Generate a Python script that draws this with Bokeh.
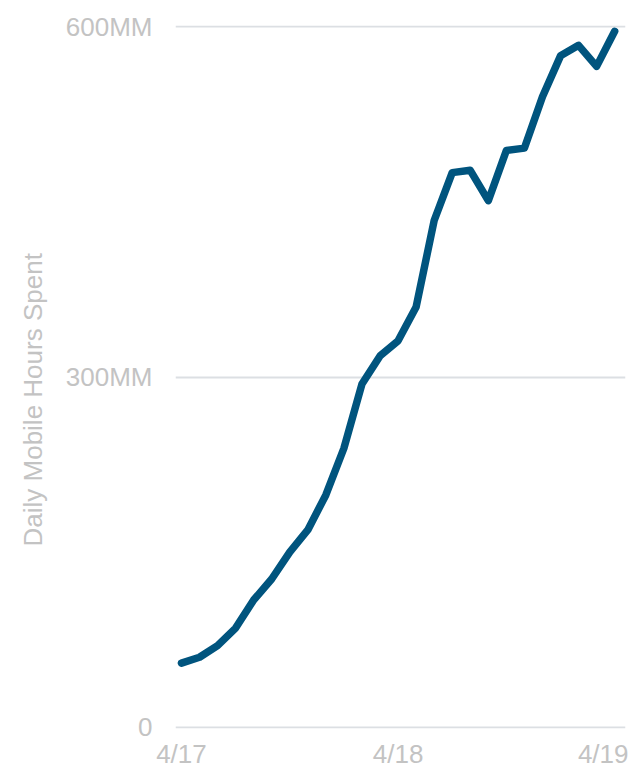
from bokeh.plotting import figure
from bokeh.models import FixedTicker, Range1d, Title
from bokeh.embed import file_html
from bokeh.resources import INLINE

# Monthly data, April 2017 .. April 2019 (month index 0..24)
months = list(range(25))
hours_mm = [55, 60, 70, 85, 109, 127, 150, 169, 199, 239, 294, 318, 331,
            360, 434, 475, 477, 451, 494, 496, 540, 575, 584, 566, 596]
x_tick_pos = [0, 12, 24]
x_tick_labels = ["4/17", "4/18", "4/19"]
y_tick_pos = [0, 300, 600]
y_tick_labels = ["0", "300MM", "600MM"]
y_title = "Daily Mobile Hours Spent"

FONT = "Liberation Sans"
TXT = "#c3c3c3"

p = figure(width=628, height=771, output_backend="svg", toolbar_location=None,
           x_range=Range1d(-0.33, 24.6), y_range=Range1d(-1, 601),
           min_border_left=170, min_border_right=3, min_border_top=25,
           min_border_bottom=36)
p.outline_line_color = None
p.background_fill_color = "white"

p.line(months, hours_mm, line_color="#00547e", line_width=7.5,
       line_join="round", line_cap="round")

p.xaxis.ticker = FixedTicker(ticks=x_tick_pos)
p.xaxis.major_label_overrides = dict(zip(x_tick_pos, x_tick_labels))
p.yaxis.ticker = FixedTicker(ticks=y_tick_pos)
p.yaxis.major_label_overrides = dict(zip(y_tick_pos, y_tick_labels))

for ax in (p.xaxis[0], p.yaxis[0]):
    ax.axis_line_color = None
    ax.major_tick_line_color = None
    ax.minor_tick_line_color = None
    ax.major_tick_out = 0
    ax.major_tick_in = 0
    ax.major_label_text_font = FONT
    ax.major_label_text_font_size = "26px"
    ax.major_label_text_color = TXT

p.xaxis.major_label_standoff = 10
p.yaxis.major_label_standoff = 23

p.add_layout(Title(text=y_title, align="left", offset=182, standoff=30,
                   text_line_height=0.7,
                   text_font=FONT, text_font_size="26px",
                   text_font_style="normal", text_color=TXT), "left")

p.xgrid.grid_line_color = None
p.ygrid.ticker = FixedTicker(ticks=y_tick_pos)
p.ygrid.grid_line_color = "#dcdfe3"
p.ygrid.grid_line_width = 2

open("out.html", "w").write(file_html(p, INLINE))
